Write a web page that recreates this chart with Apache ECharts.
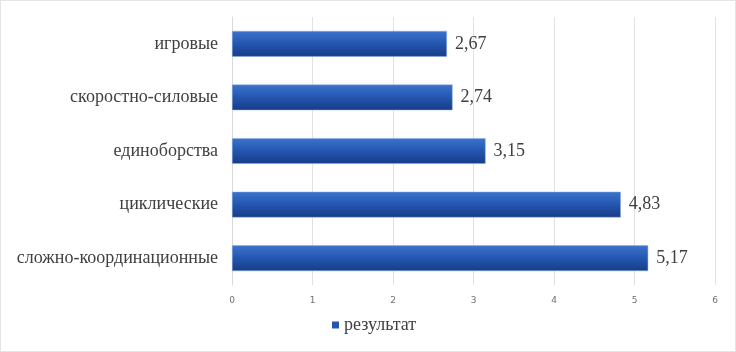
<!DOCTYPE html>
<html>
<head>
<meta charset="utf-8">
<script src="https://cdn.jsdelivr.net/npm/echarts@6/dist/echarts.min.js"></script>
<style>
html, body { margin: 0; padding: 0; background: #fff; }
#chart { width: 736px; height: 352px; box-sizing: border-box; border: 1px solid #e4e4e4; }
</style>
</head>
<body>
<div id="chart"></div>
<script>
// categories from bottom to top (ECharts draws category axis bottom-up)
var categories = ['сложно-координационные', 'циклические', 'единоборства', 'скоростно-силовые', 'игровые'];
var values = [5.17, 4.83, 3.15, 2.74, 2.67];
var seriesName = 'результат';
var xTicks = [0, 1, 2, 3, 4, 5, 6];

var myChart = echarts.init(document.getElementById('chart'));

var barColor = new echarts.graphic.LinearGradient(0, 0, 0, 1, [
	{ offset: 0, color: '#3c73cc' },
	{ offset: 0.5, color: '#2456b0' },
	{ offset: 1, color: '#163c86' }
]);

var option = {
	animation: false,
	textStyle: { fontFamily: 'Liberation Serif' },
	grid: {
		left: 231,
		right: 20,
		top: 16,
		bottom: 66
	},
	legend: {
		bottom: 12,
		left: 326,
		itemWidth: 7,
		itemHeight: 7,
		itemGap: 4,
		icon: 'rect',
		itemStyle: { color: '#2456b0', borderWidth: 0 },
		textStyle: { fontFamily: 'Liberation Serif', fontSize: 18, color: '#404040' },
		data: [seriesName]
	},
	xAxis: {
		type: 'value',
		min: xTicks[0],
		max: xTicks[xTicks.length - 1],
		interval: 1,
		axisLine: { show: false },
		axisTick: { show: false },
		axisLabel: { fontFamily: 'DejaVu Sans', fontSize: 9, color: '#707070', margin: 11 },
		splitLine: { lineStyle: { color: '#e2e2e2' } }
	},
	yAxis: {
		type: 'category',
		data: categories,
		axisLine: { lineStyle: { color: '#d9d9d9' } },
		axisTick: { show: false },
		axisLabel: { fontFamily: 'Liberation Serif', fontSize: 18, color: '#404040', margin: 14 }
	},
	series: [
		{
			name: seriesName,
			type: 'bar',
			data: values,
			barCategoryGap: '52%',
			itemStyle: {
				color: barColor,
				borderColor: '#8fb0e0',
				borderWidth: 0.5
			},
			label: {
				show: true,
				position: 'right',
				distance: 8,
				fontFamily: 'Liberation Serif',
				fontSize: 18,
				color: '#404040',
				formatter: function (p) {
					return p.value.toFixed(2).replace('.', ',');
				}
			}
		}
	]
};

myChart.setOption(option);
</script>
</body>
</html>
